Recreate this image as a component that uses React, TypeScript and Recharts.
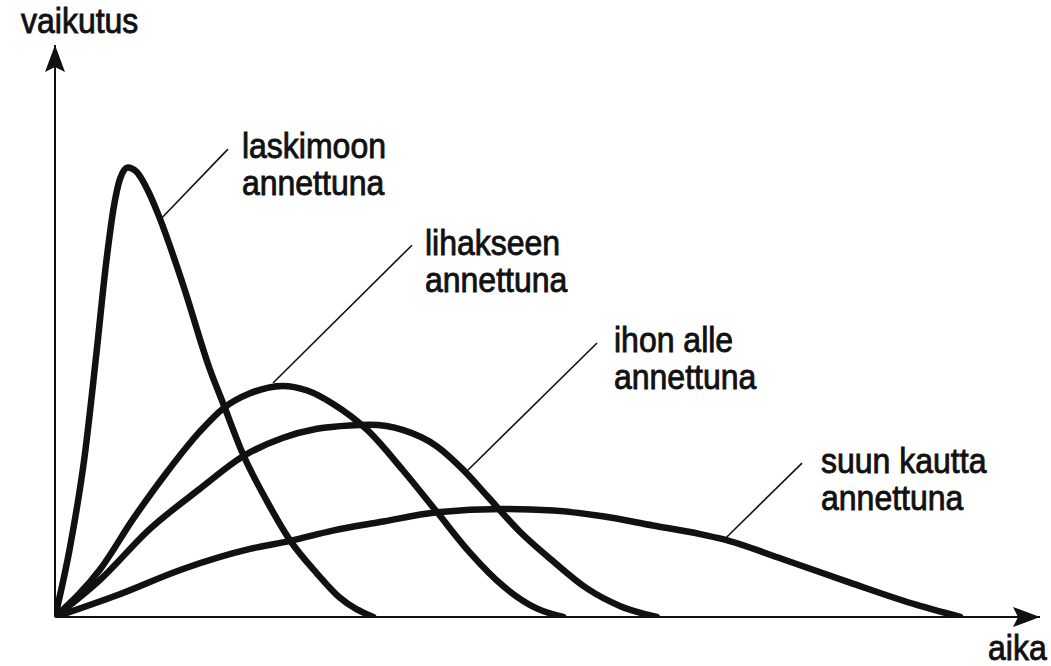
import { Line, LineChart, ReferenceDot, ReferenceLine, XAxis, YAxis } from 'recharts';

// time (x) and effect (y) samples, 0–100 on both axes
const laskimoonTime = [0, 1.5, 3.0, 4.2, 5.2, 6.0, 6.6, 7.4, 8.3, 9.64, 10.66, 13.0, 15.7, 17.1, 19.1, 21.5, 23.9, 26.6, 28.9, 32.3];
const laskimoonEffect = [0, 12.0, 28.0, 46.0, 62.0, 72.0, 76.6, 78.6, 77.8, 73.8, 69.6, 58.1, 43.4, 37.2, 28.4, 20.3, 13.3, 7.6, 3.4, 0];

const lihakseenTime = [0, 4.57, 7.92, 11.4, 14.7, 17.1, 19.8, 23.1, 25.6, 28.2, 31.7, 35.3, 38.8, 42.1, 45.5, 48.9, 51.6];
const lihakseenEffect = [0, 8.3, 17.1, 25.4, 32.4, 36.5, 39.1, 40.4, 39.6, 37.3, 32.7, 25.7, 18.3, 11.3, 5.4, 1.5, 0];

const ihonAlleTime = [0, 4.57, 9.64, 14.7, 19.1, 23.1, 26.6, 29.9, 32.0, 35.3, 38.8, 41.4, 43.9, 47.2, 50.6, 54.0, 57.4, 61.1];
const ihonAlleEffect = [0, 6.5, 15.4, 22.4, 28.1, 31.3, 32.9, 33.5, 33.6, 32.7, 29.8, 25.8, 21.1, 14.9, 9.7, 5.0, 1.9, 0];

const suunKauttaTime = [0, 6.29, 13.0, 19.8, 23.9, 28.2, 33.0, 38.8, 45.5, 50.6, 55.6, 60.7, 65.5, 67.8, 73.9, 80.7, 87.5, 91.9];
const suunKauttaEffect = [0, 3.8, 8.4, 11.9, 13.3, 15.1, 16.6, 18.3, 18.9, 18.6, 17.6, 16.0, 14.5, 13.6, 10.1, 6.0, 2.1, 0];

const curveLabels = [
  { lines: ['laskimoon', 'annettuna'], at: { t: 18.98, v: 80.24 }, leader: [{ t: 10.86, v: 69.8 }, { t: 17.56, v: 81.8 }] },
  { lines: ['lihakseen', 'annettuna'], at: { t: 37.56, v: 63.29 }, leader: [{ t: 22.13, v: 40.9 }, { t: 36.24, v: 65.0 }] },
  { lines: ['ihon alle', 'annettuna'], at: { t: 56.75, v: 46.33 }, leader: [{ t: 41.93, v: 25.7 }, { t: 55.03, v: 47.9 }] },
  { lines: ['suun kautta', 'annettuna'], at: { t: 77.77, v: 25.17 }, leader: [{ t: 67.92, v: 13.5 }, { t: 75.84, v: 26.9 }] },
];

const axisTitles = [
  { lines: ['vaikutus'], at: { t: -3.45, v: 102.1 } },
  { lines: ['aika'], at: { t: 94.72, v: -7.52 } },
];

const INK = '#111';
const FONT = '"Liberation Sans", Arial, Helvetica, sans-serif';

const zip = (ts: number[], vs: number[]) => ts.map((t, i) => ({ t, v: vs[i] }));

const series = [
  { key: 'laskimoon', data: zip(laskimoonTime, laskimoonEffect) },
  { key: 'lihakseen', data: zip(lihakseenTime, lihakseenEffect) },
  { key: 'ihonAlle', data: zip(ihonAlleTime, ihonAlleEffect) },
  { key: 'suunKautta', data: zip(suunKauttaTime, suunKauttaEffect) },
];

// axes drawn as arrowed segments from the origin
const axes = [
  { key: 'x', to: { t: 100, v: 0 } },
  { key: 'y', to: { t: 0, v: 100 } },
];

function TextBlock({ cx, cy, lines }: { cx?: number; cy?: number; lines: string[] }) {
  if (cx == null || cy == null) return null;
  return (
    <g>
      {lines.map((s, i) => (
        <text
          key={i}
          transform={`translate(${cx},${cy + i * 37}) scale(1,1.1)`}
          fontFamily={FONT}
          fontSize={32}
          fill={INK}
          stroke={INK}
          strokeWidth={0.8}
        >
          {s}
        </text>
      ))}
    </g>
  );
}

type Seg = { x1?: number; y1?: number; x2?: number; y2?: number };

const ArrowAxis = (p: Seg) => (
  <line x1={p.x1} y1={p.y1} x2={p.x2} y2={p.y2} stroke={INK} strokeWidth={2} markerEnd="url(#arrow)" />
);

export default function App() {
  return (
    <div style={{ position: 'absolute', left: 0, top: 0, width: 1051, height: 666, background: '#fff' }}>
      <LineChart width={1051} height={666} margin={{ top: 45, right: 11, bottom: 49, left: 55 }}>
        <defs>
          <marker
            id="arrow"
            markerUnits="userSpaceOnUse"
            markerWidth={28}
            markerHeight={20}
            refX={27}
            refY={10}
            orient="auto"
          >
            <path d="M0,0 L27,10 L0,20 L5,10 Z" fill={INK} />
          </marker>
        </defs>
        <XAxis type="number" dataKey="t" domain={[0, 100]} allowDataOverflow hide />
        <YAxis type="number" dataKey="v" domain={[0, 100]} allowDataOverflow hide />
        {axes.map((a) => (
          <ReferenceLine
            key={a.key}
            segment={[
              { x: 0, y: 0 },
              { x: a.to.t, y: a.to.v },
            ]}
            ifOverflow="visible"
            shape={(p: Seg) => <ArrowAxis {...p} />}
          />
        ))}
        {series.map((s) => (
          <Line
            key={s.key}
            data={s.data}
            dataKey="v"
            type="monotone"
            stroke={INK}
            strokeWidth={6.5}
            strokeLinecap="round"
            strokeLinejoin="round"
            dot={false}
            activeDot={false}
            isAnimationActive={false}
          />
        ))}
        {curveLabels.map((c) => (
          <ReferenceLine
            key={`l-${c.lines[0]}`}
            segment={[
              { x: c.leader[0].t, y: c.leader[0].v },
              { x: c.leader[1].t, y: c.leader[1].v },
            ]}
            stroke={INK}
            strokeWidth={1.6}
            ifOverflow="visible"
          />
        ))}
        {[...curveLabels, ...axisTitles].map((c) => (
          <ReferenceDot
            key={`t-${c.lines[0]}`}
            x={c.at.t}
            y={c.at.v}
            r={0}
            ifOverflow="visible"
            shape={(p: { cx?: number; cy?: number }) => <TextBlock cx={p.cx} cy={p.cy} lines={c.lines} />}
          />
        ))}
      </LineChart>
    </div>
  );
}
